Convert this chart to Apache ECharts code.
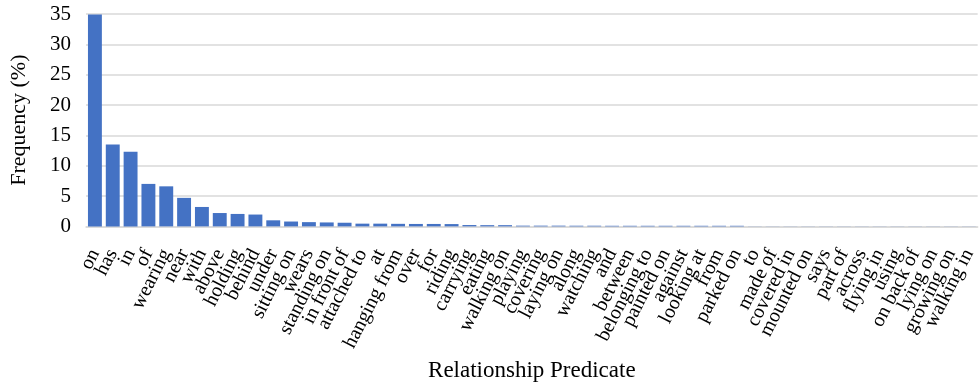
<!DOCTYPE html>
<html><head><meta charset="utf-8">
<script src="https://cdn.jsdelivr.net/npm/echarts@6/dist/echarts.min.js"></script>
<style>html,body{margin:0;padding:0;background:#fff}#c{width:979px;height:387px}</style>
</head><body><div id="c"></div>
<script>
const categories = ["on","has","in","of","wearing","near","with","above","holding","behind","under","sitting on","wears","standing on","in front of","attached to","at","hanging from","over","for","riding","carrying","eating","walking on","playing","covering","laying on","along","watching","and","between","belonging to","painted on","against","looking at","from","parked on","to","made of","covered in","mounted on","says","part of","across","flying in","using","on back of","lying on","growing on","walking in"];
const frequency = [34.9,13.5,12.3,7.0,6.6,4.7,3.2,2.2,2.05,1.95,1.0,0.8,0.7,0.65,0.6,0.45,0.45,0.42,0.4,0.4,0.38,0.22,0.2,0.2,0.12,0.12,0.12,0.11,0.11,0.1,0.1,0.1,0.1,0.1,0.1,0.1,0.1,0.02,0.02,0.02,0.02,0.02,0.02,0.02,0.02,0.02,0.02,0.02,0.02,0.02];
const yTicks = {min:0, max:35, interval:5};
const font = "Liberation Serif";
const chart = echarts.init(document.getElementById('c'));
chart.setOption({
  animation:false,
  grid:{left:85,right:1,top:14,bottom:157},
  xAxis:{type:'category',data:categories,
    name:'Relationship Predicate',nameLocation:'middle',nameGap:132,
    nameTextStyle:{fontFamily:font,fontSize:23,color:'#000'},
    axisLine:{show:true,lineStyle:{color:'#d9d9d9',width:1.5}},axisTick:{show:false},
    axisLabel:{interval:0,rotate:63,margin:24,fontFamily:font,fontSize:20,color:'#000'}},
  yAxis:{type:'value',min:yTicks.min,max:yTicks.max,interval:yTicks.interval,
    name:'Frequency (%)',nameLocation:'middle',nameGap:56,
    nameTextStyle:{fontFamily:font,fontSize:22,color:'#000'},
    axisLine:{show:false},axisTick:{show:false},
    axisLabel:{margin:15,fontFamily:font,fontSize:21,color:'#000'},
    splitLine:{lineStyle:{color:'#d9d9d9',width:1.5}}},
  series:[{type:'bar',data:frequency,barCategoryGap:'22%',itemStyle:{color:'#4472C4'}}]
});
</script></body></html>
